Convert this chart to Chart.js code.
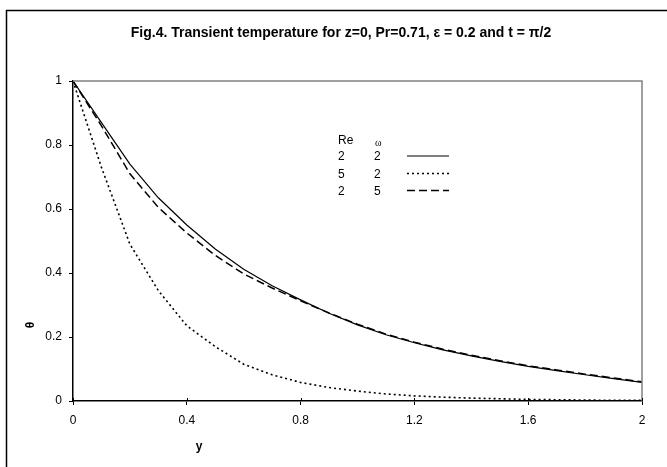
<!DOCTYPE html>
<html>
<head>
<meta charset="utf-8">
<script src="https://cdn.jsdelivr.net/npm/chart.js@4/dist/chart.umd.min.js"></script>
<style>
  html, body { margin: 0; padding: 0; background: #fff; }
  #wrap { width: 667px; height: 467px; }
</style>
</head>
<body>
<div id="wrap"><canvas id="fig4" width="667" height="467"></canvas></div>
<script>
// y positions (horizontal axis)
const yPos = [0, 0.1, 0.2, 0.3, 0.4, 0.5, 0.6, 0.7, 0.8, 0.9, 1.0,
              1.1, 1.2, 1.3, 1.4, 1.5, 1.6, 1.7, 1.8, 1.9, 2.0];

// theta
const thetaRe2w2 = [1, 0.87, 0.74, 0.635, 0.55, 0.475, 0.412, 0.36, 0.316, 0.274, 0.238,
                    0.207, 0.182, 0.16, 0.141, 0.124, 0.108, 0.095, 0.082, 0.07, 0.058];
const thetaRe5w2 = [1, 0.73, 0.49, 0.345, 0.235, 0.17, 0.115, 0.082, 0.058, 0.042, 0.031,
                    0.022, 0.016, 0.012, 0.009, 0.007, 0.005, 0.004, 0.003, 0.002, 0.002];
const thetaRe2w5 = [1, 0.86, 0.71, 0.605, 0.525, 0.455, 0.397, 0.353, 0.313, 0.275, 0.24,
                    0.209, 0.184, 0.162, 0.143, 0.126, 0.11, 0.097, 0.084, 0.072, 0.06];

const reValues = [2, 5, 2];
const omegaValues = [2, 2, 5];

const xTicks = [0, 0.4, 0.8, 1.2, 1.6, 2];
const yTicks = [0, 0.2, 0.4, 0.6, 0.8, 1];

const toPts = arr => arr.map((v, i) => ({ x: yPos[i], y: v }));
const FONT = '"Liberation Sans", Arial, sans-serif';

// frame, title, axis titles and the little table legend
const decor = {
  id: 'decor',
  beforeDraw(c) {
    const ctx = c.ctx;
    ctx.save();
    ctx.fillStyle = '#fff';
    ctx.fillRect(0, 0, c.width, c.height);
    ctx.strokeStyle = '#000';
    ctx.lineWidth = 1.5;
    ctx.beginPath();
    ctx.moveTo(6.5, 467);
    ctx.lineTo(6.5, 10.5);
    ctx.lineTo(667, 10.5);
    ctx.stroke();
    ctx.restore();
  },
  afterDraw(c) {
    const ctx = c.ctx, a = c.chartArea;
    ctx.save();
    // grey plot border top/right
    ctx.strokeStyle = '#808080';
    ctx.lineWidth = 1.5;
    ctx.beginPath();
    ctx.moveTo(a.left, a.top);
    ctx.lineTo(a.right, a.top);
    ctx.lineTo(a.right, a.bottom);
    ctx.stroke();

    // x ticks cross the axis a little
    ctx.strokeStyle = '#000';
    ctx.lineWidth = 1;
    const xs = c.scales.x;
    xTicks.forEach(v => {
      const px = Math.round(xs.getPixelForValue(v)) + 0.5;
      ctx.beginPath();
      ctx.moveTo(px, a.bottom - 3);
      ctx.lineTo(px, a.bottom);
      ctx.stroke();
    });

    ctx.fillStyle = '#000';
    ctx.textBaseline = 'middle';
    ctx.textAlign = 'center';
    ctx.font = 'bold 14px ' + FONT;
    ctx.fillText('Fig.4. Transient temperature for z=0, Pr=0.71, \u03b5 = 0.2 and t = \u03c0/2', 341, 33);

    ctx.font = 'bold 12px ' + FONT;
    ctx.fillText('y', 199, 447);
    ctx.save();
    ctx.translate(31, 325);
    ctx.rotate(-Math.PI / 2);
    ctx.fillText('\u03b8', 0, 0);
    ctx.restore();

    // legend table
    ctx.textAlign = 'left';
    ctx.font = '12px ' + FONT;
    ctx.fillText('Re', 338, 141);
    ctx.font = '10px "Liberation Serif", serif';
    ctx.fillText('\u03c9', 375, 143);
    ctx.font = '12px ' + FONT;
    const rowY = [156, 173.5, 190.5];
    c.data.datasets.forEach((ds, i) => {
      ctx.fillStyle = '#000';
      ctx.fillText(String(reValues[i]), 338, rowY[i] + 1);
      ctx.fillText(String(omegaValues[i]), 374, rowY[i] + 1);
      ctx.strokeStyle = ds.borderColor;
      ctx.lineWidth = ds.borderWidth;
      ctx.setLineDash(ds.borderDash || []);
      ctx.beginPath();
      ctx.moveTo(407, rowY[i]);
      ctx.lineTo(449, rowY[i]);
      ctx.stroke();
    });
    ctx.restore();
  }
};

new Chart(document.getElementById('fig4'), {
  type: 'line',
  data: {
    datasets: [
      { label: 'Re=2, w=2', data: toPts(thetaRe2w2), borderColor: '#000', borderWidth: 1.2, borderDash: [] },
      { label: 'Re=5, w=2', data: toPts(thetaRe5w2), borderColor: '#000', borderWidth: 1.6, borderDash: [2, 3] },
      { label: 'Re=2, w=5', data: toPts(thetaRe2w5), borderColor: '#000', borderWidth: 1.5, borderDash: [8, 4] }
    ]
  },
  options: {
    responsive: false,
    animation: false,
    layout: { padding: { left: 0, top: 81, right: 25, bottom: 0 } },
    elements: { point: { radius: 0 }, line: { tension: 0 } },
    plugins: { legend: { display: false }, title: { display: false }, tooltip: { enabled: false } },
    scales: {
      x: {
        type: 'linear',
        min: 0,
        max: 2,
        afterBuildTicks: s => { s.ticks = xTicks.map(v => ({ value: v })); },
        afterFit: s => { s.height = 66; },
        ticks: {
          color: '#000',
          font: { family: FONT, size: 12 },
          padding: 8,
          maxRotation: 0,
          callback: v => String(v)
        },
        grid: { display: true, drawOnChartArea: false, color: '#000', tickLength: 4 },
        border: { color: '#000', width: 1.5 }
      },
      y: {
        min: 0,
        max: 1,
        afterBuildTicks: s => { s.ticks = yTicks.map(v => ({ value: v })); },
        afterFit: s => { s.width = 73; },
        ticks: {
          color: '#000',
          font: { family: FONT, size: 12 },
          padding: 7,
          callback: v => String(v)
        },
        grid: { display: true, drawOnChartArea: false, color: '#000', tickLength: 4 },
        border: { color: '#000', width: 1.5 }
      }
    }
  },
  plugins: [decor]
});
</script>
</body>
</html>
